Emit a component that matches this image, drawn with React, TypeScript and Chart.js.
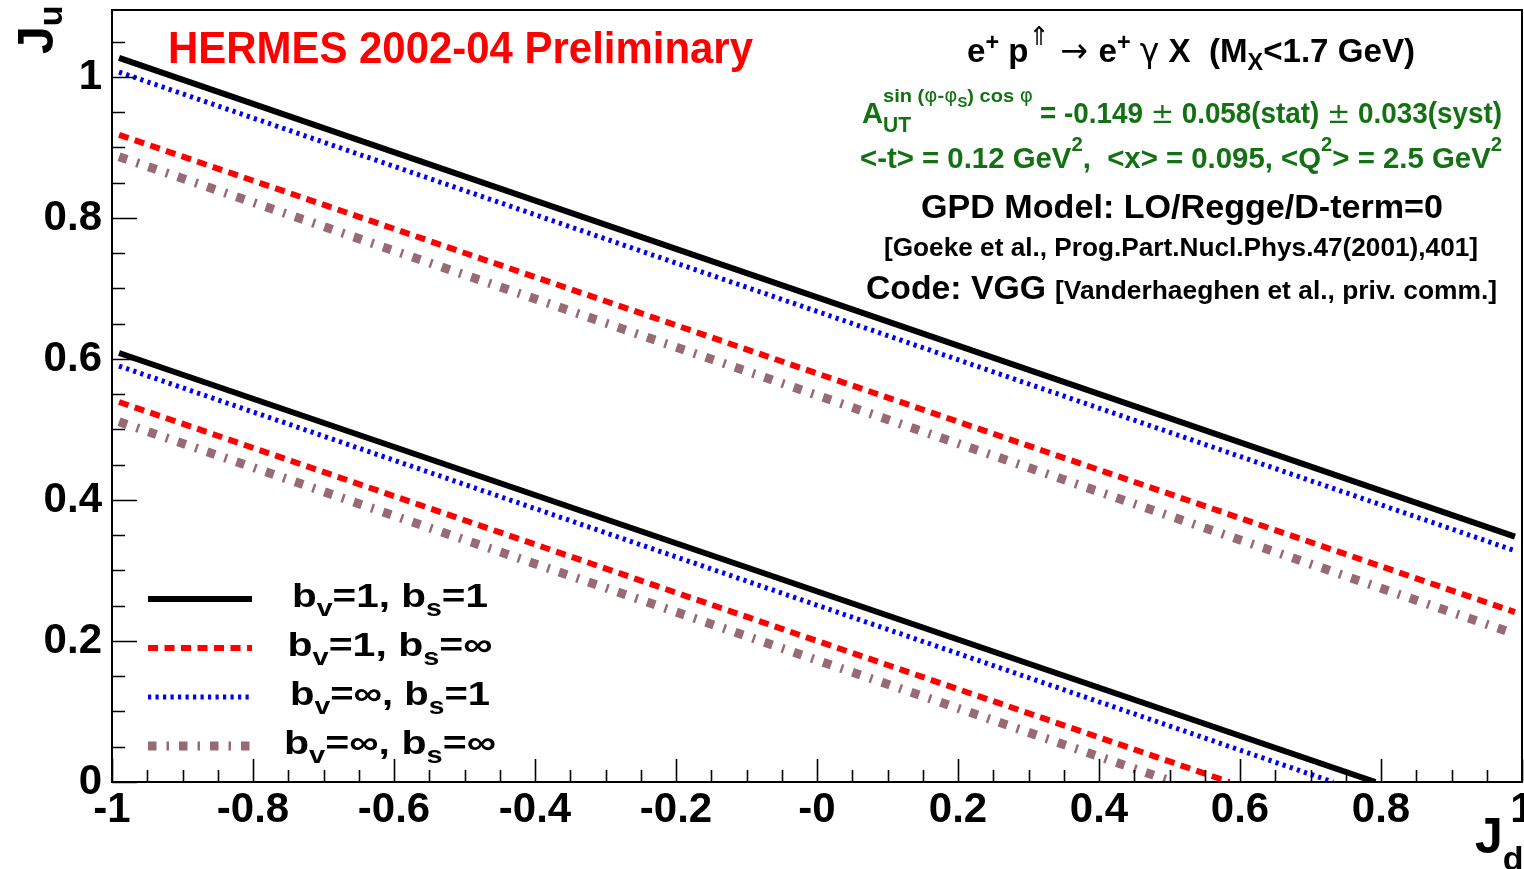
import React, { useEffect, useRef } from 'react';
import { Chart, registerables } from 'chart.js';

Chart.register(...registerables);

const FONT = '"Liberation Sans", Arial, Helvetica, sans-serif';
const SYMFONT = '"DejaVu Sans", "Liberation Sans", sans-serif';

// ---- axis ticks ----
const xTickValues = [-1, -0.8, -0.6, -0.4, -0.2, 0, 0.2, 0.4, 0.6, 0.8, 1];
const xTickLabels = ['-1', '-0.8', '-0.6', '-0.4', '-0.2', '-0', '0.2', '0.4', '0.6', '0.8', '1'];
const yTickValues = [0, 0.2, 0.4, 0.6, 0.8, 1];
const yTickLabels = ['0', '0.2', '0.4', '0.6', '0.8', '1'];

// ---- data: J_u vs J_d constraint lines (upper and lower bound of the band) ----
const upperJd = [-0.99, 0.99];
const upperJu_bv1bs1 = [1.027, 0.348];
const upperJu_bv1bsInf = [0.918, 0.241];
const upperJu_bvInfbs1 = [1.007, 0.328];
const upperJu_bvInfbsInf = [0.887, 0.21];

const lowerJd_bv1bs1 = [-0.99, 0.792];
const lowerJu_bv1bs1 = [0.6085, 0];
const lowerJd_bv1bsInf = [-0.99, 0.585];
const lowerJu_bv1bsInf = [0.539, 0];
const lowerJd_bvInfbs1 = [-0.99, 0.732];
const lowerJu_bvInfbs1 = [0.59, 0];
const lowerJd_bvInfbsInf = [-0.99, 0.506];
const lowerJu_bvInfbsInf = [0.511, 0];

type Seg = { t: string; size: number; dy?: number; normal?: boolean };

const legendRows: Seg[][] = [
  [{ t: 'b', size: 34 }, { t: 'v', size: 24, dy: 9 }, { t: '=1, b', size: 34 }, { t: 's', size: 24, dy: 9 }, { t: '=1', size: 34 }],
  [{ t: 'b', size: 34 }, { t: 'v', size: 24, dy: 9 }, { t: '=1, b', size: 34 }, { t: 's', size: 24, dy: 9 }, { t: '=∞', size: 34 }],
  [{ t: 'b', size: 34 }, { t: 'v', size: 24, dy: 9 }, { t: '=∞, b', size: 34 }, { t: 's', size: 24, dy: 9 }, { t: '=1', size: 34 }],
  [{ t: 'b', size: 34 }, { t: 'v', size: 24, dy: 9 }, { t: '=∞, b', size: 34 }, { t: 's', size: 24, dy: 9 }, { t: '=∞', size: 34 }],
];

const styles = [
  { color: '#000000', width: 6, dash: [] as number[] },
  { color: '#ff0000', width: 6, dash: [10, 6.5] },
  { color: '#0000ff', width: 5, dash: [3.2, 4.3] },
  { color: '#986a73', width: 9, dash: [8.5, 10, 2.5, 10] },
];

const GREEN = '#137113';

function pts(xs: number[], ys: number[]) {
  return xs.map((x, i) => ({ x, y: ys[i] }));
}

function drawRich(
  ctx: CanvasRenderingContext2D,
  segs: Seg[],
  x: number,
  y: number,
  color: string,
  width?: number,
  align: 'left' | 'center' = 'left'
) {
  const fontOf = (s: Seg) => (s.normal ? `${s.size}px ${SYMFONT}` : `bold ${s.size}px ${FONT}`);
  let total = 0;
  const ws = segs.map((s) => {
    ctx.font = fontOf(s);
    const w = ctx.measureText(s.t).width;
    total += w;
    return w;
  });
  const sx = width ? width / total : 1;
  const drawW = total * sx;
  const x0 = align === 'center' ? x - drawW / 2 : x;
  ctx.save();
  ctx.translate(x0, y);
  ctx.scale(sx, 1);
  ctx.fillStyle = color;
  ctx.textAlign = 'left';
  ctx.textBaseline = 'alphabetic';
  let cx = 0;
  segs.forEach((s, i) => {
    ctx.font = fontOf(s);
    ctx.fillText(s.t, cx, s.dy || 0);
    cx += ws[i];
  });
  ctx.restore();
}

const rootPlugin = {
  id: 'rootStyle',
  beforeDraw(chart: any) {
    const { ctx, width, height } = chart;
    ctx.save();
    ctx.fillStyle = '#ffffff';
    ctx.fillRect(0, 0, width, height);
    ctx.restore();
  },
  afterDatasetsDraw(chart: any) {
    const { ctx, chartArea: a } = chart;
    const xs = chart.scales.x;
    const ys = chart.scales.y;
    ctx.save();
    ctx.setLineDash([]);
    ctx.strokeStyle = '#000';
    ctx.lineWidth = 2;
    ctx.strokeRect(a.left, a.top, a.right - a.left, a.bottom - a.top);
    ctx.lineWidth = 1.6;
    ctx.beginPath();
    for (let k = 0; k <= 40; k++) {
      const v = -1 + k * 0.05;
      const px = Math.round(xs.getPixelForValue(v)) + 0.5;
      const len = k % 4 === 0 ? 23 : 12;
      ctx.moveTo(px, a.bottom);
      ctx.lineTo(px, a.bottom - len);
    }
    for (let k = 0; k * 0.05 <= ys.max + 1e-9; k++) {
      const v = k * 0.05;
      const py = Math.round(ys.getPixelForValue(v)) + 0.5;
      const len = k % 4 === 0 ? 25 : 13;
      ctx.moveTo(a.left, py);
      ctx.lineTo(a.left + len, py);
    }
    ctx.stroke();
    ctx.restore();
  },
  afterDraw(chart: any) {
    const ctx: CanvasRenderingContext2D = chart.ctx;
    ctx.save();

    // title
    drawRich(ctx, [{ t: 'HERMES 2002-04 Preliminary', size: 44 }], 168, 63, '#ff0000', 585);

    // reaction
    drawRich(
      ctx,
      [
        { t: 'e', size: 34 },
        { t: '+', size: 24, dy: -12 },
        { t: ' p', size: 34 },
        { t: '⇑', size: 26, dy: -17, normal: true },
        { t: ' → ', size: 34, normal: true },
        { t: 'e', size: 34 },
        { t: '+', size: 24, dy: -12 },
        { t: ' ', size: 34 },
        { t: 'γ', size: 34, normal: true },
        { t: ' X  (M', size: 34 },
        { t: 'X', size: 24, dy: 8 },
        { t: '<1.7 GeV)', size: 34 },
      ],
      967,
      62,
      '#000',
      448
    );

    // asymmetry line
    drawRich(ctx, [{ t: 'A', size: 30 }], 862, 123, GREEN, 21);
    drawRich(ctx, [{ t: 'UT', size: 22 }], 883, 132, GREEN, 28);
    drawRich(
      ctx,
      [
        { t: 'sin (', size: 19 },
        { t: 'φ', size: 19, normal: true },
        { t: '-', size: 19 },
        { t: 'φ', size: 19, normal: true },
        { t: 'S', size: 14, dy: 5 },
        { t: ') cos ', size: 19 },
        { t: 'φ', size: 19, normal: true },
      ],
      883,
      102,
      GREEN,
      150
    );
    drawRich(
      ctx,
      [
        { t: '= -0.149 ', size: 29 },
        { t: '±', size: 29, normal: true },
        { t: ' 0.058(stat) ', size: 29 },
        { t: '±', size: 29, normal: true },
        { t: ' 0.033(syst)', size: 29 },
      ],
      1040,
      123,
      GREEN,
      462
    );

    // kinematics line
    drawRich(
      ctx,
      [
        { t: '<-t> = 0.12 GeV', size: 29 },
        { t: '2', size: 20, dy: -17 },
        { t: ',  <x> = 0.095, <Q', size: 29 },
        { t: '2', size: 20, dy: -17 },
        { t: '> = 2.5 GeV', size: 29 },
        { t: '2', size: 20, dy: -17 },
      ],
      860,
      168,
      GREEN,
      642
    );

    drawRich(ctx, [{ t: 'GPD Model: LO/Regge/D-term=0', size: 34 }], 921, 218, '#000', 522);
    drawRich(ctx, [{ t: '[Goeke et al., Prog.Part.Nucl.Phys.47(2001),401]', size: 25 }], 884, 256, '#000', 594);
    drawRich(ctx, [{ t: 'Code: VGG', size: 34 }], 866, 299, '#000', 180);
    drawRich(ctx, [{ t: '[Vanderhaeghen et al., priv. comm.]', size: 25 }], 1055, 299, '#000', 442);

    // axis titles
    ctx.save();
    ctx.translate(53, 54);
    ctx.rotate(-Math.PI / 2);
    drawRich(ctx, [{ t: 'J', size: 50 }, { t: 'u', size: 34, dy: 9 }], 0, 0, '#000');
    ctx.restore();
    drawRich(ctx, [{ t: 'J', size: 50 }, { t: 'd', size: 34, dy: 17 }], 1475, 853, '#000');

    // legend
    const legendY = [599, 648, 697, 746];
    const legendW = [196, 205, 200, 212];
    legendRows.forEach((row, i) => {
      const st = styles[i];
      ctx.save();
      ctx.strokeStyle = st.color;
      ctx.lineWidth = st.width;
      ctx.setLineDash(st.dash);
      ctx.lineCap = 'butt';
      ctx.beginPath();
      ctx.moveTo(148, legendY[i]);
      ctx.lineTo(252, legendY[i]);
      ctx.stroke();
      ctx.restore();
      drawRich(ctx, row, 390, legendY[i] + 8, '#000', legendW[i], 'center');
    });

    ctx.restore();
  },
};

export default function App() {
  const ref = useRef<HTMLCanvasElement | null>(null);

  useEffect(() => {
    document.body.style.margin = '0';
    const canvas = ref.current;
    if (!canvas) return;

    const series = [
      { up: upperJu_bv1bs1, lowX: lowerJd_bv1bs1, lowY: lowerJu_bv1bs1 },
      { up: upperJu_bv1bsInf, lowX: lowerJd_bv1bsInf, lowY: lowerJu_bv1bsInf },
      { up: upperJu_bvInfbs1, lowX: lowerJd_bvInfbs1, lowY: lowerJu_bvInfbs1 },
      { up: upperJu_bvInfbsInf, lowX: lowerJd_bvInfbsInf, lowY: lowerJu_bvInfbsInf },
    ];
    const labels = ['bv=1, bs=1', 'bv=1, bs=inf', 'bv=inf, bs=1', 'bv=inf, bs=inf'];
    const datasets: any[] = [];
    // draw order: brown, blue, red, black (black on top)
    [3, 2, 1, 0].forEach((i) => {
      const st = styles[i];
      const common = {
        borderColor: st.color,
        borderWidth: st.width,
        borderDash: st.dash,
        borderCapStyle: 'butt',
        pointRadius: 0,
        fill: false,
        tension: 0,
      };
      datasets.push({ ...common, label: labels[i] + ' (upper)', data: pts(upperJd, series[i].up) });
      datasets.push({ ...common, label: labels[i] + ' (lower)', data: pts(series[i].lowX, series[i].lowY) });
    });

    const tickFont = { family: FONT, size: 42, weight: 'bold' as const };

    const chart = new Chart(canvas, {
      type: 'line',
      data: { datasets },
      options: {
        animation: false,
        responsive: false,
        devicePixelRatio: 1,
        events: [],
        layout: { padding: { top: 10, right: 2, left: 0, bottom: 0 } },
        plugins: {
          legend: { display: false },
          tooltip: { enabled: false },
        },
        scales: {
          x: {
            type: 'linear',
            min: -1,
            max: 1,
            grid: { display: false },
            border: { display: false },
            ticks: {
              font: tickFont,
              color: '#000',
              padding: -5,
              maxRotation: 0,
              minRotation: 0,
              autoSkip: false,
              callback: (_v: any, i: number) => xTickLabels[i] ?? '',
            },
            afterBuildTicks: (s: any) => {
              s.ticks = xTickValues.map((v) => ({ value: v }));
            },
            afterFit: (s: any) => {
              s.height = 87;
              s.paddingLeft = 0;
              s.paddingRight = 0;
            },
          },
          y: {
            type: 'linear',
            min: 0,
            max: 1.095,
            grid: { display: false },
            border: { display: false },
            ticks: {
              font: tickFont,
              color: '#000',
              padding: 2,
              autoSkip: false,
              callback: (_v: any, i: number) => yTickLabels[i] ?? '',
            },
            afterBuildTicks: (s: any) => {
              s.ticks = yTickValues.map((v) => ({ value: v }));
            },
            afterFit: (s: any) => {
              s.width = 112;
              s.paddingTop = 0;
              s.paddingBottom = 0;
            },
          },
        },
      } as any,
      plugins: [rootPlugin],
    });

    return () => chart.destroy();
  }, []);

  return (
    <div style={{ position: 'fixed', left: 0, top: 0, width: 1524, height: 869, background: '#fff' }}>
      <canvas ref={ref} width={1524} height={869} style={{ display: 'block', width: 1524, height: 869 }} />
    </div>
  );
}
